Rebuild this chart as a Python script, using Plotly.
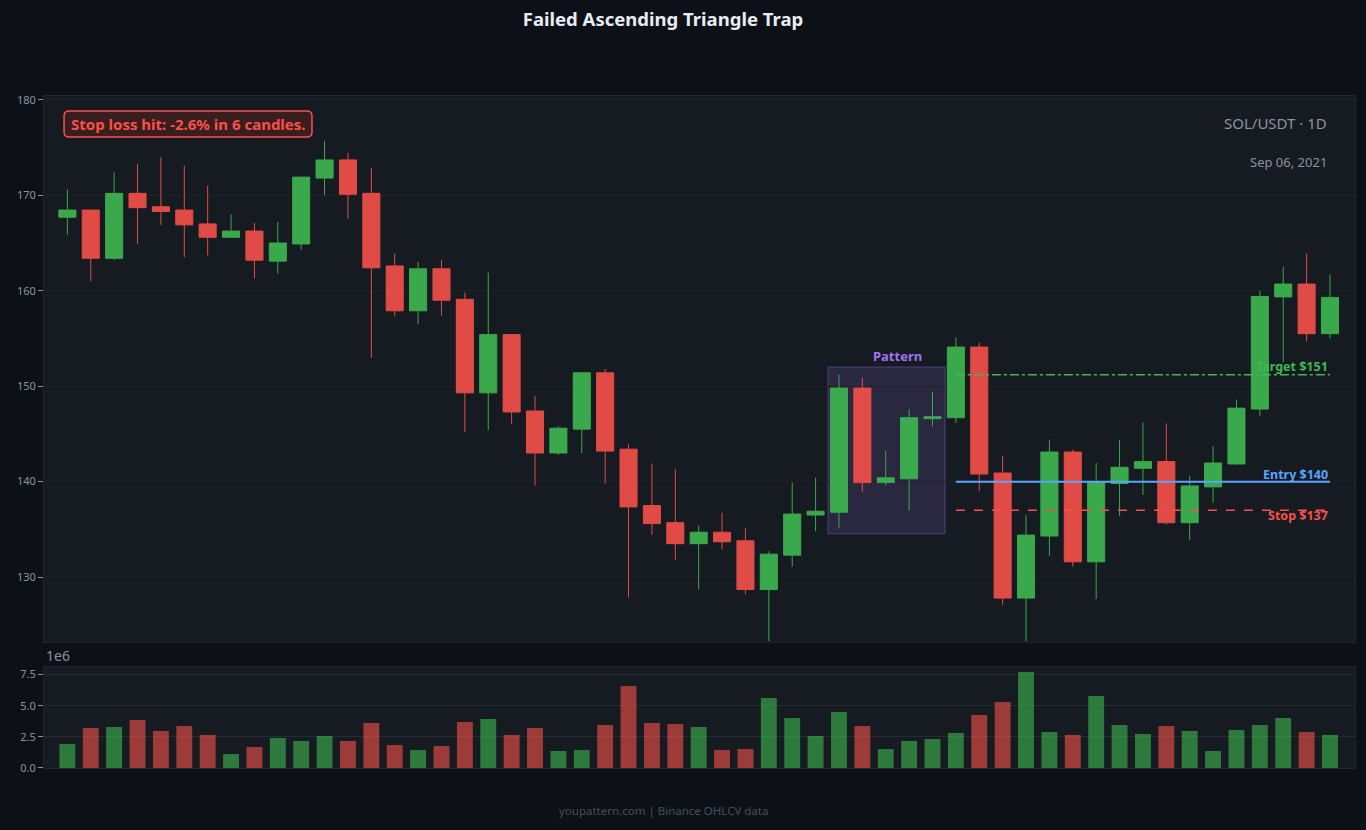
import plotly.graph_objects as go

# ---- data ----
opens = [167.7, 168.45, 163.4, 170.2, 168.8, 168.45, 167.0, 165.6, 166.25, 163.1,
         164.9, 171.8, 173.7, 170.2, 162.6, 157.9, 162.3, 159.1, 149.3, 155.4,
         147.4, 143.0, 145.5, 151.4, 143.4, 137.5, 135.7, 133.5, 134.7, 133.8,
         128.7, 132.3, 136.5, 136.8, 149.8, 139.9, 140.3, 146.6, 146.7, 154.1,
         140.9, 127.8, 134.3, 143.1, 131.6, 139.8, 141.4, 142.1, 135.7, 139.45,
         141.85, 147.6, 159.35, 160.7, 155.5]
highs = [170.6, 168.5, 172.4, 173.3, 174.0, 173.1, 171.0, 168.0, 167.1, 167.2,
         171.95, 175.7, 174.45, 172.9, 163.9, 163.0, 163.25, 159.8, 161.9, 155.4,
         149.0, 145.8, 151.5, 151.8, 143.9, 141.9, 141.3, 135.4, 136.75, 135.1,
         132.7, 139.9, 140.4, 151.2, 150.9, 143.25, 147.6, 149.4, 155.1, 154.55,
         142.7, 136.5, 144.4, 143.35, 141.95, 144.4, 146.2, 146.1, 140.6, 143.7,
         148.6, 160.0, 162.5, 163.9, 161.7]
lows = [165.9, 161.0, 163.2, 164.9, 166.9, 163.5, 163.7, 165.6, 161.3, 161.8,
        164.3, 170.0, 167.5, 152.95, 157.3, 156.5, 157.4, 145.2, 145.4, 146.0,
        139.6, 142.8, 143.0, 139.8, 127.85, 134.4, 131.8, 128.7, 132.9, 128.2,
        123.3, 131.1, 134.8, 135.1, 138.95, 139.6, 137.0, 145.8, 146.15, 139.0,
        127.1, 123.3, 132.25, 131.1, 127.7, 136.4, 138.6, 135.5, 133.9, 137.8,
        141.8, 146.9, 152.5, 154.7, 155.0]
closes = [168.45, 163.4, 170.2, 168.7, 168.3, 166.9, 165.6, 166.25, 163.2, 165.0,
          171.9, 173.7, 170.1, 162.4, 157.9, 162.3, 159.0, 149.3, 155.4, 147.3,
          143.0, 145.6, 151.4, 143.2, 137.35, 135.6, 133.5, 134.7, 133.7, 128.7,
          132.4, 136.6, 136.9, 149.8, 139.9, 140.4, 146.7, 146.8, 154.1, 140.8,
          127.8, 134.4, 143.1, 131.6, 139.9, 141.5, 142.1, 135.7, 139.55, 141.95,
          147.7, 159.4, 160.7, 155.5, 159.3]
volumes = [1.92, 3.21, 3.29, 3.85, 2.97, 3.37, 2.65, 1.12, 1.68, 2.41,
           2.17, 2.57, 2.17, 3.61, 1.84, 1.44, 1.76, 3.69, 3.93, 2.65,
           3.21, 1.36, 1.44, 3.45, 6.58, 3.61, 3.53, 3.29, 1.44, 1.52,
           5.61, 4.01, 2.57, 4.49, 3.37, 1.52, 2.17, 2.33, 2.81, 4.25,
           5.29, 7.70, 2.89, 2.65, 5.77, 3.45, 2.73, 3.37, 2.97, 1.36,
           3.05, 3.45, 4.01, 2.89, 2.65]  # in millions

idx = list(range(len(opens)))
pattern_start, pattern_end = 33, 37
trade_start, trade_end = 38, 54
target_price, entry_price, stop_price = 151.2, 140.0, 137.0
pattern_top, pattern_bottom = 152.0, 134.55

GREEN = "#3fb950"
RED = "#f85149"
BG = "#0d1117"
PLOT_BG = "#161b22"
GRID = "#21262d"
TXT = "#8b949e"

vol_colors = [GREEN if c >= o else RED for o, c in zip(opens, closes)]

fig = go.Figure()

fig.add_trace(go.Candlestick(
    x=idx, open=opens, high=highs, low=lows, close=closes,
    increasing=dict(line=dict(color=GREEN, width=1), fillcolor=GREEN),
    decreasing=dict(line=dict(color=RED, width=1), fillcolor=RED),
    opacity=0.9, showlegend=False, xaxis="x", yaxis="y",
))

fig.add_trace(go.Bar(
    x=idx, y=volumes, marker=dict(color=vol_colors, line=dict(width=0)),
    opacity=0.6, width=0.68, showlegend=False, xaxis="x2", yaxis="y2",
))

# pattern box
fig.add_shape(type="rect", xref="x", yref="y",
              x0=pattern_start - 0.47, x1=pattern_end + 0.54,
              y0=pattern_bottom, y1=pattern_top,
              fillcolor="rgba(163,113,247,0.15)",
              line=dict(color="rgba(163,113,247,0.25)", width=1.5), layer="below")

# trade levels
fig.add_shape(type="line", xref="x", yref="y", x0=trade_start, x1=trade_end,
              y0=target_price, y1=target_price,
              line=dict(color=GREEN, width=1.5, dash="dashdot"))
fig.add_shape(type="line", xref="x", yref="y", x0=trade_start, x1=trade_end,
              y0=entry_price, y1=entry_price,
              line=dict(color="#58a6ff", width=2))
fig.add_shape(type="line", xref="x", yref="y", x0=trade_start, x1=trade_end,
              y0=stop_price, y1=stop_price,
              line=dict(color=RED, width=1.5, dash="dash"))

# rounded box behind the stop-loss note (domain units of the price panel)
bx0, bx1, by0, by1, rx, ry = 0.0153, 0.2044, 0.9249, 0.9725, 0.0038, 0.0092
box_path = (f"M {bx0+rx},{by0} L {bx1-rx},{by0} Q {bx1},{by0} {bx1},{by0+ry} "
            f"L {bx1},{by1-ry} Q {bx1},{by1} {bx1-rx},{by1} L {bx0+rx},{by1} "
            f"Q {bx0},{by1} {bx0},{by1-ry} L {bx0},{by0+ry} Q {bx0},{by0} {bx0+rx},{by0} Z")
fig.add_shape(type="path", xref="x domain", yref="y domain", path=box_path,
              fillcolor="#3a1d1f", line=dict(color=RED, width=1.5), layer="above")

ann = []
ann.append(dict(x=(pattern_start + pattern_end) / 2 + 0.5, y=pattern_top, xref="x", yref="y",
                text="<b>Pattern</b>", showarrow=False, yanchor="bottom",
                font=dict(color="#a371f7", size=13)))
ann.append(dict(x=trade_end, y=target_price, xref="x", yref="y", text="<b>Target $151</b>",
                showarrow=False, xanchor="right", yanchor="bottom", yshift=-2,
                font=dict(color=GREEN, size=12.5)))
ann.append(dict(x=trade_end, y=entry_price, xref="x", yref="y", text="<b>Entry $140</b>",
                showarrow=False, xanchor="right", yanchor="bottom", yshift=-3,
                font=dict(color="#58a6ff", size=12.5)))
ann.append(dict(x=trade_end, y=stop_price, xref="x", yref="y", text="<b>Stop $137</b>",
                showarrow=False, xanchor="right", yanchor="top", yshift=5,
                font=dict(color=RED, size=12.5)))
ann.append(dict(x=(bx0 + bx1) / 2, y=(by0 + by1) / 2, xref="x domain", yref="y domain",
                text="<b>Stop loss hit: -2.6% in 6 candles.</b>", showarrow=False,
                xanchor="center", yanchor="middle", font=dict(color=RED, size=15)))
ann.append(dict(x=0.98, y=0.95, xref="x domain", yref="y domain", text="SOL/USDT · 1D",
                showarrow=False, xanchor="right", yanchor="middle",
                font=dict(color=TXT, size=15)))
ann.append(dict(x=0.98, y=0.88, xref="x domain", yref="y domain", text="Sep 06, 2021",
                showarrow=False, xanchor="right", yanchor="middle",
                font=dict(color=TXT, size=13)))
ann.append(dict(x=0, y=1.0, xref="x2 domain", yref="y2 domain", text="1e6",
                showarrow=False, xanchor="left", yanchor="bottom",
                font=dict(color=TXT, size=14)))
ann.append(dict(x=(663 - 44) / 1311, y=(768 - 810) / 672, xref="paper", yref="paper",
                text="youpattern.com | Binance OHLCV data", showarrow=False,
                xanchor="center", yanchor="middle",
                font=dict(color="#484f58", size=11.5)))

fig.update_layout(
    width=1366, height=830,
    paper_bgcolor=BG, plot_bgcolor=PLOT_BG,
    font=dict(family="Noto Sans", color=TXT, size=11),
    title=dict(text="<b>Failed Ascending Triangle Trap</b>", x=663 / 1366, xanchor="center",
               xref="container", y=1 - 20 / 830, yanchor="middle",
               font=dict(size=18.5, color="#e6edf3")),
    margin=dict(l=44, r=11, t=96, b=62),
    showlegend=False,
    boxgap=0.27, boxgroupgap=0,
    annotations=ann,
    xaxis=dict(domain=[0, 1], range=[-1, 55.07], rangeslider=dict(visible=False),
               showgrid=False, showticklabels=False, zeroline=False,
               showline=True, linecolor=GRID, mirror=True, ticks=""),
    yaxis=dict(domain=[0.1875, 1], range=[123.2, 180.4], tickvals=[130, 140, 150, 160, 170, 180],
               gridcolor="#1d2229", zeroline=False, showline=True, linecolor=GRID, mirror=True,
               ticks="outside", ticklen=5, tickcolor=TXT, tickfont=dict(color=TXT, size=11)),
    xaxis2=dict(domain=[0, 1], range=[-1, 55.07], anchor="y2", matches="x",
                showgrid=False, showticklabels=False, zeroline=False,
                showline=True, linecolor=GRID, mirror=True, ticks=""),
    yaxis2=dict(domain=[0, 0.1503], range=[0, 8.1], tickvals=[0, 2.5, 5, 7.5],
                tickformat=".1f", gridcolor="#262c35", zeroline=False, anchor="x2",
                showline=True, linecolor=GRID, mirror=True,
                ticks="outside", ticklen=5, tickcolor=TXT, tickfont=dict(color=TXT, size=11)),
)

fig.write_html("out.html")
